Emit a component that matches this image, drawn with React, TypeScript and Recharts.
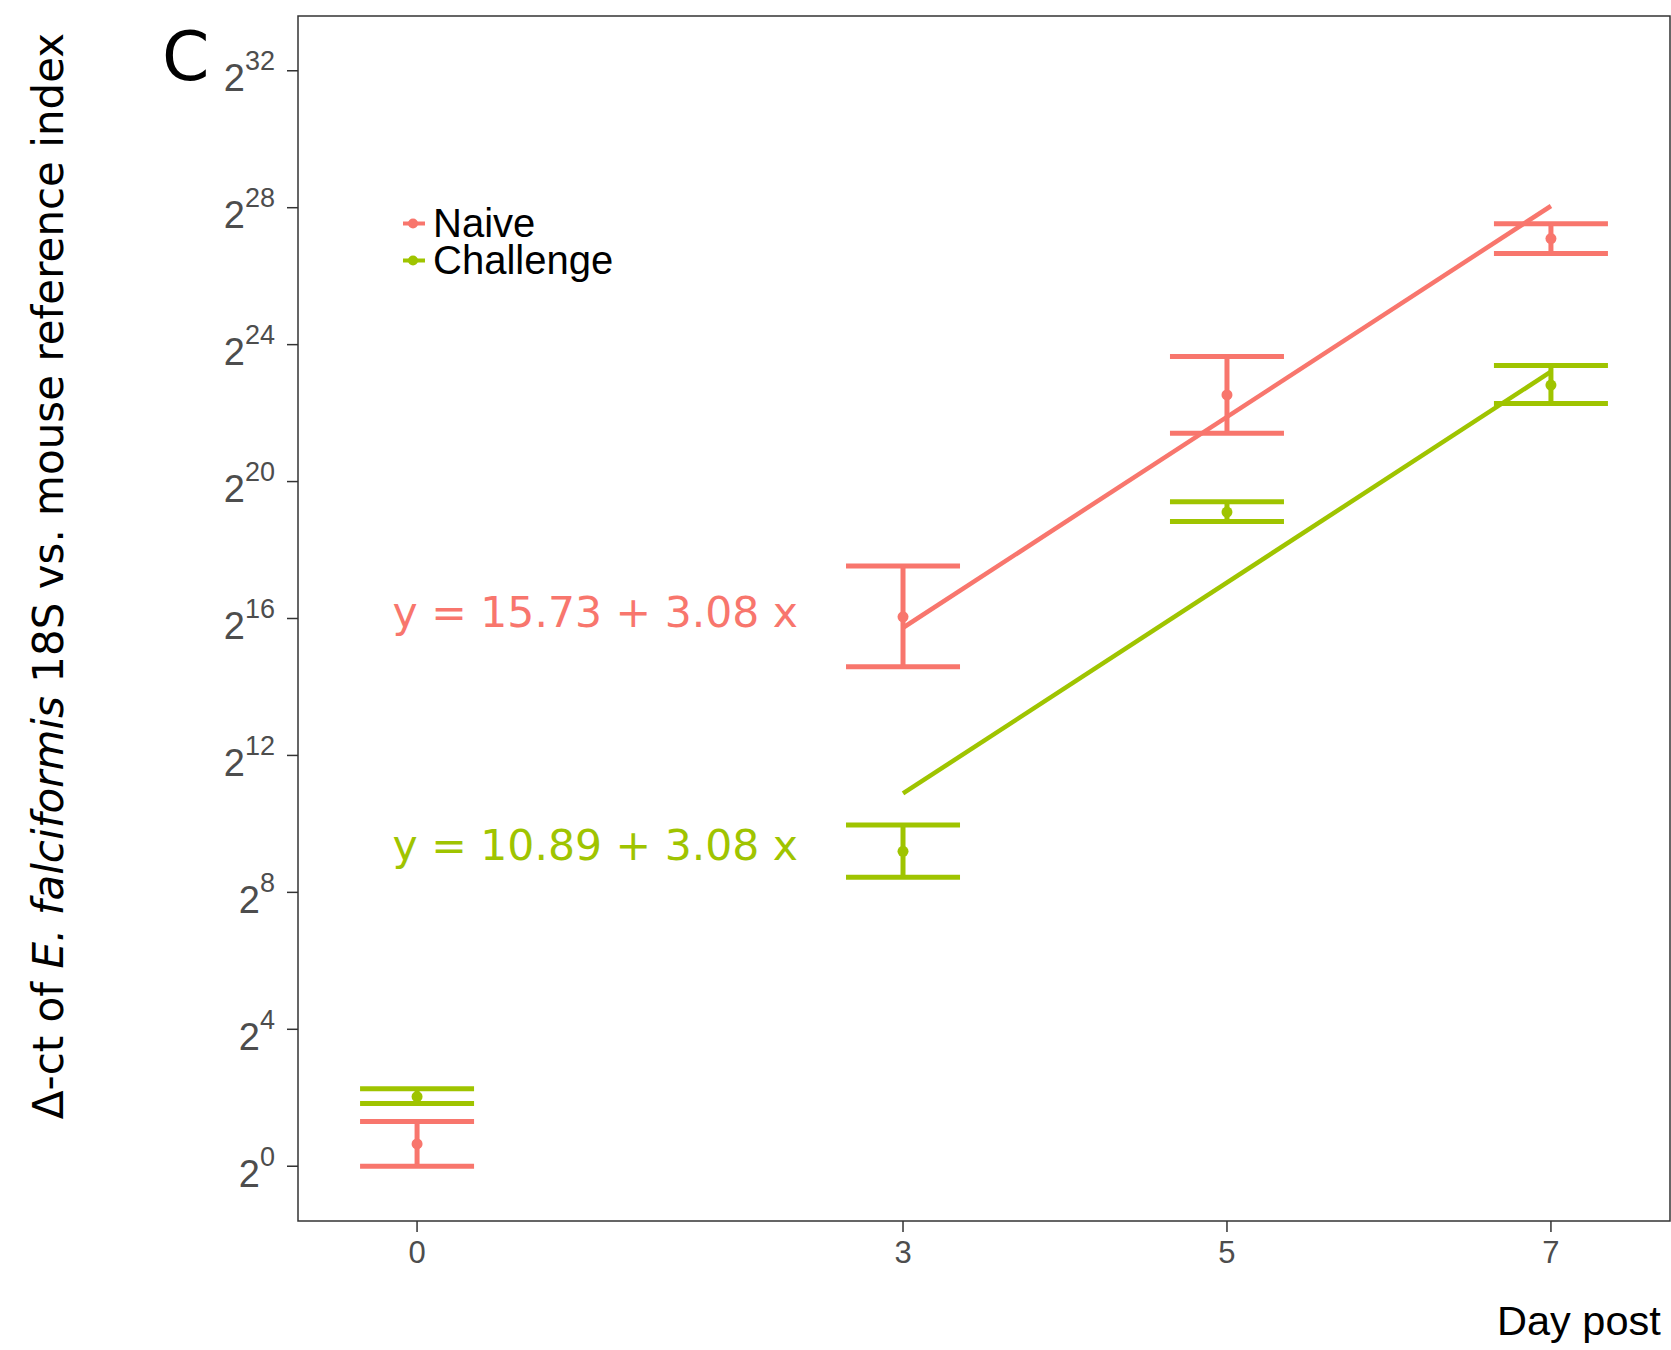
import {
  ComposedChart,
  ErrorBar,
  Legend,
  ReferenceArea,
  ReferenceDot,
  Scatter,
  XAxis,
  YAxis,
} from "recharts";

// days sampled
const days = [0, 3, 5, 7];

// log2 of delta-ct
const naiveMean = [0.65, 16.05, 22.53, 27.1];
const naiveLow = [0.0, 14.59, 21.41, 26.66];
const naiveHigh = [1.31, 17.53, 23.65, 27.53];

const challengeMean = [2.03, 9.2, 19.11, 22.82];
const challengeLow = [1.83, 8.44, 18.83, 22.28];
const challengeHigh = [2.26, 9.97, 19.41, 23.39];

// fitted lines (ends at day 3 and day 7)
const fitDays = [3, 7];
const naiveFit = [15.73, 28.05];
const challengeFit = [10.89, 23.21];

const naiveEquation = "y = 15.73 + 3.08 x";
const challengeEquation = "y = 10.89 + 3.08 x";

const xTicks = [0, 3, 5, 7];
const yTicks = [0, 4, 8, 12, 16, 20, 24, 28, 32];

const NAIVE = "#F8766D";
const CHALLENGE = "#9FC400";
const AXIS = "#333333";
const TICK_TEXT = "#4D4D4D";
const SANS = "'Liberation Sans', Arial, sans-serif";
const DEJAVU = "'DejaVu Sans', sans-serif";

const X_DOMAIN: [number, number] = [-0.735, 7.735];
const Y_DOMAIN: [number, number] = [-1.6, 33.6];

const toPoints = (mean: number[], low: number[], high: number[]) =>
  days.map((d, i) => ({
    day: d,
    v: mean[i],
    err: [mean[i] - low[i], high[i] - mean[i]],
  }));

const naiveData = toPoints(naiveMean, naiveLow, naiveHigh);
const challengeData = toPoints(challengeMean, challengeLow, challengeHigh);
const naiveFitData = fitDays.map((d, i) => ({ day: d, v: naiveFit[i] }));
const challengeFitData = fitDays.map((d, i) => ({ day: d, v: challengeFit[i] }));

const series = [
  { name: "Naive", color: NAIVE },
  { name: "Challenge", color: CHALLENGE },
];

function YTick({ x, y, payload }: any) {
  return (
    <text x={x} y={y} textAnchor="end" fill={TICK_TEXT} fontFamily={SANS}>
      <tspan fontSize={38} dy={20.5}>
        2
      </tspan>
      <tspan fontSize={27} dy={-21}>
        {payload.value}
      </tspan>
    </text>
  );
}

function XTick({ x, y, payload }: any) {
  return (
    <text
      x={x}
      y={y + 22}
      textAnchor="middle"
      fill={TICK_TEXT}
      fontSize={31}
      fontFamily={SANS}
    >
      {payload.value}
    </text>
  );
}

function YTitle() {
  return (
    <g>
      <text x={162} y={80} fontSize={68} fontFamily={DEJAVU} fill="#000">
        C
      </text>
      <text
        x={48}
        y={576}
        transform="rotate(-90 48 576)"
        textAnchor="middle"
        dominantBaseline="central"
        fontSize={42}
        fontFamily={DEJAVU}
        fill="#000"
      >
        <tspan>Δ-ct of </tspan>
        <tspan fontStyle="italic">E. falciformis</tspan>
        <tspan> 18S vs. mouse reference index</tspan>
      </text>
    </g>
  );
}

function XTitle() {
  return (
    <text x={1497} y={1335} fontSize={41.5} fontFamily={SANS} fill="#000">
      Day post
    </text>
  );
}

function LegendBox() {
  return (
    <div style={{ fontFamily: SANS }}>
      {series.map((s) => (
        <div
          key={s.name}
          style={{ display: "flex", alignItems: "center", height: 37 }}
        >
          <svg width={31} height={37}>
            <line x1={1} x2={23} y1={18.5} y2={18.5} stroke={s.color} strokeWidth={4} />
            <circle cx={11} cy={18.5} r={5} fill={s.color} />
          </svg>
          <span
            style={{
              display: "block",
              height: 37,
              fontSize: 40,
              lineHeight: "37px",
              color: "#000",
              whiteSpace: "nowrap",
            }}
          >
            {s.name}
          </span>
        </div>
      ))}
    </div>
  );
}

const dot = (color: string) => (props: any) =>
  <circle cx={props.cx} cy={props.cy} r={5.5} fill={color} />;

const noShape = () => <g />;

export default function App() {
  return (
    <div
      style={{
        position: "absolute",
        left: 0,
        top: 0,
        width: 1671,
        height: 1350,
        overflow: "hidden",
        background: "#fff",
      }}
    >
      <ComposedChart
        width={1671}
        height={1350}
        margin={{ top: 16, right: 1, bottom: 69, left: 0 }}
      >
        <XAxis
          type="number"
          dataKey="day"
          domain={X_DOMAIN}
          allowDataOverflow
          ticks={xTicks}
          height={60}
          axisLine={false}
          tickLine={{ stroke: AXIS, strokeWidth: 1.5 }}
          tickSize={11}
          tickMargin={9}
          tick={<XTick />}
          label={<XTitle />}
        />
        <YAxis
          type="number"
          dataKey="v"
          domain={Y_DOMAIN}
          allowDataOverflow
          ticks={yTicks}
          width={298}
          axisLine={false}
          tickLine={{ stroke: AXIS, strokeWidth: 1.5 }}
          tickSize={11}
          tickMargin={12}
          tick={<YTick />}
          label={<YTitle />}
        />
        <ReferenceArea
          x1={X_DOMAIN[0]}
          x2={X_DOMAIN[1]}
          y1={Y_DOMAIN[0]}
          y2={Y_DOMAIN[1]}
          fill="none"
          stroke={AXIS}
          strokeWidth={1.5}
          ifOverflow="visible"
        />
        <Legend
          layout="vertical"
          align="center"
          verticalAlign="middle"
          content={<LegendBox />}
          wrapperStyle={{ left: 402, top: 204.5, width: 300, height: 74 }}
        />
        <Scatter
          name="Naive"
          data={naiveData}
          fill={NAIVE}
          shape={dot(NAIVE)}
          isAnimationActive={false}
        >
          <ErrorBar
            dataKey="err"
            direction="y"
            width={57}
            stroke={NAIVE}
            strokeWidth={5}
          />
        </Scatter>
        <Scatter
          name="Challenge"
          data={challengeData}
          fill={CHALLENGE}
          shape={dot(CHALLENGE)}
          isAnimationActive={false}
        >
          <ErrorBar
            dataKey="err"
            direction="y"
            width={57}
            stroke={CHALLENGE}
            strokeWidth={5}
          />
        </Scatter>
        <Scatter
          name="Naive fit"
          data={naiveFitData}
          line={{ stroke: NAIVE, strokeWidth: 4.5 }}
          shape={noShape}
          legendType="none"
          isAnimationActive={false}
        />
        <Scatter
          name="Challenge fit"
          data={challengeFitData}
          line={{ stroke: CHALLENGE, strokeWidth: 4.5 }}
          shape={noShape}
          legendType="none"
          isAnimationActive={false}
        />
        <ReferenceDot
          x={1.1}
          y={16.2}
          r={0}
          fill="none"
          stroke="none"
          label={{
            value: naiveEquation,
            position: "center",
            fill: NAIVE,
            fontSize: 42.5,
            fontFamily: DEJAVU,
          }}
        />
        <ReferenceDot
          x={1.1}
          y={9.38}
          r={0}
          fill="none"
          stroke="none"
          label={{
            value: challengeEquation,
            position: "center",
            fill: CHALLENGE,
            fontSize: 42.5,
            fontFamily: DEJAVU,
          }}
        />
      </ComposedChart>
    </div>
  );
}
